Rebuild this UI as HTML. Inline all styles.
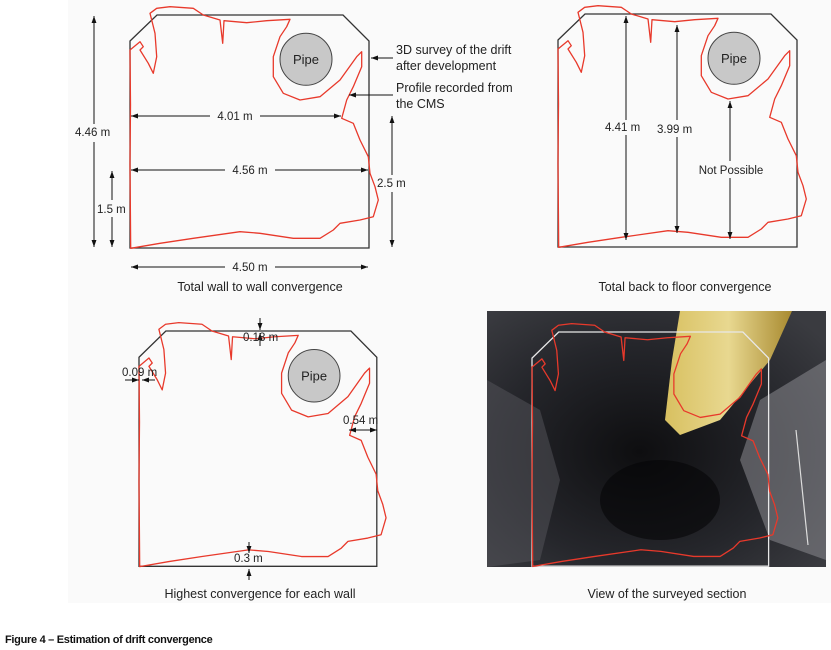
<!DOCTYPE html>
<html><head><meta charset="utf-8"><style>
html,body{margin:0;padding:0;background:#fff;}
svg{display:block;font-family:"Liberation Sans",Arial,sans-serif;}
</style></head><body>
<svg width="831" height="650" viewBox="0 0 831 650" xmlns="http://www.w3.org/2000/svg">
<defs>
<marker id="ah" viewBox="0 0 10 10" refX="10" refY="5" markerWidth="7" markerHeight="7" orient="auto-start-reverse"><path d="M0,1.5 L10,5 L0,8.5 z" fill="#111"/></marker>
<g id="box"><path d="M0,26 L27,0 L213,0 L239,26 L239,233 L0,233 Z" fill="none" stroke="#333" stroke-width="1.3"/></g>
<g id="prof"><path d="M0.7,233.3 L0,150 L0.5,90 L0,35 L10,26.7 L13.3,31.7 L10,35 L18.3,48.3 L23.3,58.3 L26.7,41.7 L25,18.3 L21.7,5 L20,-1.7 L26.7,-6.7 L40,-8.3 L63.3,-6.7 L73.3,0 L90,5 L92.7,28.3 L94,5.7 L116.7,7.7 L136.7,5.7 L160,4.3 L156.7,11.7 L150,21.7 L143.3,41.7 L143.3,61.7 L153.3,78.3 L170,85 L190,81.7 L210,65 L226.7,41.7 L231.7,36.7 L231.7,51.7 L223.3,71.7 L216.7,85 L211.7,103.3 L223.3,108.3 L230,125 L238.3,141.7 L240,158.3 L245,171.7 L248.3,185 L243.3,201.7 L230,205 L210,208.3 L203.3,215 L190,223.3 L163.3,223.3 L130,218.3 L110,216.7 L63.3,223.3 L30,228.3 Z" fill="none" stroke="#e8392b" stroke-width="1.3" stroke-linejoin="round"/></g>
<g id="pipe"><circle cx="176" cy="44.3" r="26" fill="#c8c8c8" stroke="#444" stroke-width="1"/><text x="176" y="49" font-size="13" text-anchor="middle" fill="#222">Pipe</text></g>
<linearGradient id="pg" x1="0" y1="0" x2="1" y2="0"><stop offset="0" stop-color="#d8c060"/><stop offset="0.5" stop-color="#e8d890"/><stop offset="1" stop-color="#a88a30"/></linearGradient>
<radialGradient id="bg" cx="0.45" cy="0.55" r="0.7"><stop offset="0" stop-color="#0e0e10"/><stop offset="0.6" stop-color="#25262b"/><stop offset="1" stop-color="#3a3b40"/></radialGradient>
</defs>
<rect x="68" y="0" width="763" height="603" fill="#fafafa"/>

<!-- Panel 1 -->
<g transform="translate(130,15)"><use href="#box"/><use href="#pipe"/><use href="#prof"/></g>
<g stroke="#111" stroke-width="1" fill="none">
<line x1="94" y1="16" x2="94" y2="124" marker-start="url(#ah)"/><line x1="94" y1="142" x2="94" y2="247" marker-end="url(#ah)"/>
<line x1="112" y1="171" x2="112" y2="200" marker-start="url(#ah)"/><line x1="112" y1="217" x2="112" y2="247" marker-end="url(#ah)"/>
<line x1="392" y1="116" x2="392" y2="175" marker-start="url(#ah)"/><line x1="392" y1="192" x2="392" y2="247" marker-end="url(#ah)"/>
<line x1="131" y1="116" x2="210" y2="116" marker-start="url(#ah)"/><line x1="260" y1="116" x2="341" y2="116" marker-end="url(#ah)"/>
<line x1="131" y1="170" x2="225" y2="170" marker-start="url(#ah)"/><line x1="275" y1="170" x2="368" y2="170" marker-end="url(#ah)"/>
<line x1="131" y1="267" x2="225" y2="267" marker-start="url(#ah)"/><line x1="275" y1="267" x2="368" y2="267" marker-end="url(#ah)"/>
<line x1="393" y1="58" x2="371" y2="58" marker-end="url(#ah)"/>
<line x1="393" y1="95" x2="349" y2="95" marker-end="url(#ah)"/>
</g>
<g font-size="11.5" fill="#222">
<text x="75" y="136">4.46 m</text>
<text x="97" y="213">1.5 m</text>
<text x="377" y="187">2.5 m</text>
<text x="235" y="120" text-anchor="middle">4.01 m</text>
<text x="250" y="174" text-anchor="middle">4.56 m</text>
<text x="250" y="271" text-anchor="middle">4.50 m</text>
<text x="396" y="54" font-size="12.5">3D survey of the drift</text>
<text x="396" y="70" font-size="12.5">after development</text>
<text x="396" y="92" font-size="12.5">Profile recorded from</text>
<text x="396" y="108" font-size="12.5">the CMS</text>
<text x="260" y="291" font-size="12.5" text-anchor="middle">Total wall to wall convergence</text>
</g>

<!-- Panel 2 -->
<g transform="translate(558,14)"><use href="#box"/><use href="#pipe"/><use href="#prof"/></g>
<g stroke="#111" stroke-width="1" fill="none">
<line x1="626" y1="16" x2="626" y2="120" marker-start="url(#ah)"/><line x1="626" y1="135" x2="626" y2="240" marker-end="url(#ah)"/>
<line x1="677" y1="25" x2="677" y2="120" marker-start="url(#ah)"/><line x1="677" y1="137" x2="677" y2="233" marker-end="url(#ah)"/>
<line x1="730" y1="101" x2="730" y2="161" marker-start="url(#ah)"/><line x1="730" y1="178" x2="730" y2="239" marker-end="url(#ah)"/>
</g>
<g font-size="11.5" fill="#222">
<text x="605" y="131">4.41 m</text>
<text x="657" y="133">3.99 m</text>
<text x="731" y="174" text-anchor="middle">Not Possible</text>
<text x="685" y="291" font-size="12.5" text-anchor="middle">Total back to floor convergence</text>
</g>

<!-- Panel 3 -->
<g transform="translate(139,331) scale(0.995,1.01)"><use href="#box"/><use href="#pipe"/><use href="#prof"/></g>
<g stroke="#111" stroke-width="1" fill="none">
<line x1="260" y1="318" x2="260" y2="330" marker-end="url(#ah)"/><line x1="260" y1="346" x2="260" y2="333" marker-end="url(#ah)"/>
<line x1="125" y1="380" x2="139" y2="380" marker-end="url(#ah)"/><line x1="155" y1="380" x2="142" y2="380" marker-end="url(#ah)"/>
<line x1="349" y1="430" x2="377" y2="430" marker-start="url(#ah)" marker-end="url(#ah)"/>
<line x1="249" y1="542" x2="249" y2="553" marker-end="url(#ah)"/><line x1="249" y1="580" x2="249" y2="569" marker-end="url(#ah)"/>
</g>
<g font-size="11.5" fill="#222">
<text x="243" y="341">0.18 m</text>
<text x="122" y="376">0.09 m</text>
<text x="343" y="424">0.54 m</text>
<text x="234" y="562">0.3 m</text>
<text x="260" y="598" font-size="12.5" text-anchor="middle">Highest convergence for each wall</text>
</g>

<!-- Photo -->
<rect x="487" y="311" width="339" height="256" fill="url(#bg)"/>
<path d="M487,380 L540,410 L560,480 L540,560 L487,567 Z" fill="#55565c" opacity="0.5"/>
<path d="M826,360 L760,400 L740,460 L770,540 L826,560 Z" fill="#8a8b90" opacity="0.55"/>
<ellipse cx="660" cy="500" rx="60" ry="40" fill="#050506" opacity="0.6"/>
<path d="M680,311 L792,311 L770,360 L720,420 L680,435 L665,420 L672,360 Z" fill="url(#pg)"/>
<path d="M796,430 L808,545" stroke="#ddd" stroke-width="1.2"/>
<g transform="translate(532,332) scale(0.99,1.005)">
<path d="M0,26 L27,0 L213,0 L239,26 L239,233 L0,233 Z" fill="none" stroke="#e8e8e8" stroke-width="1.3"/>
<use href="#prof"/></g>
<text x="667" y="598" font-size="12.5" text-anchor="middle" fill="#222">View of the surveyed section</text>

<text x="5" y="643" font-size="11" font-weight="bold" fill="#111" letter-spacing="-0.3">Figure 4 – Estimation of drift convergence</text>
</svg>
</body></html>
